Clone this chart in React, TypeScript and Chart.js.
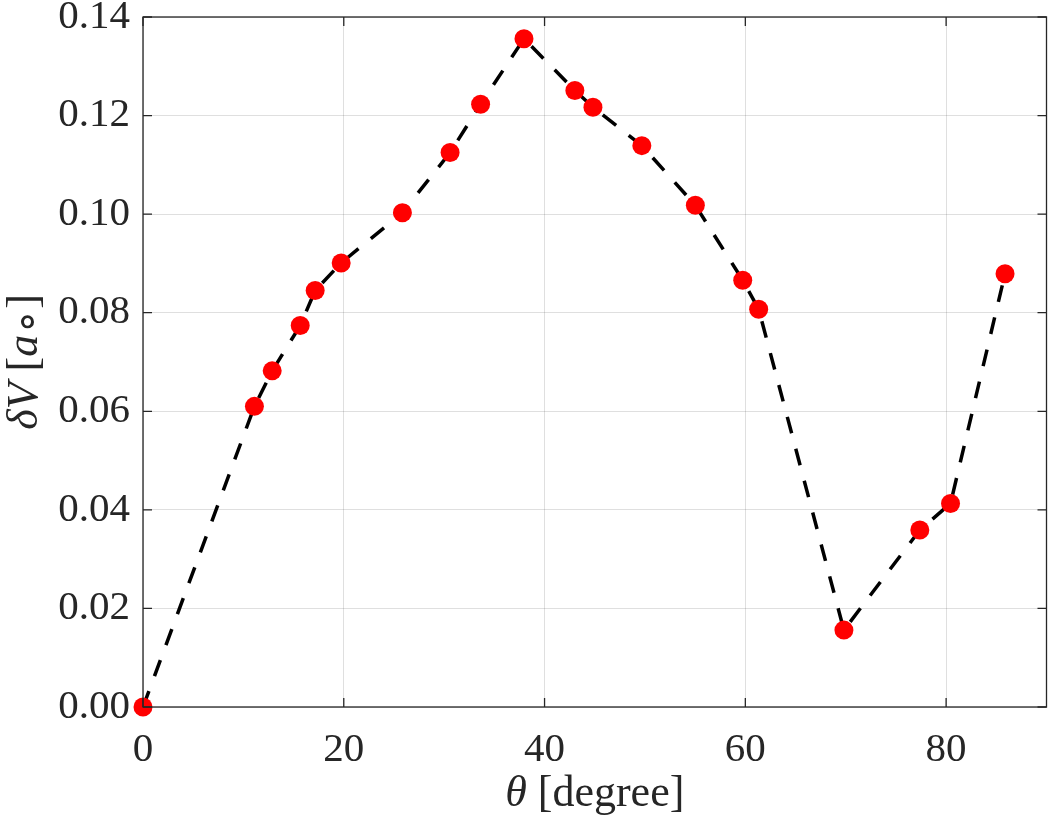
import React, { useEffect, useRef } from "react";
import { Chart, registerables } from "chart.js";

Chart.register(...registerables);

const thetaDeg: number[] = [0, 11.1, 12.87, 15.66, 17.15, 19.74, 25.84, 30.59, 33.63, 37.95, 43.02, 44.82, 49.69, 55.02, 59.74, 61.33, 69.82, 77.38, 80.44, 85.87];
const deltaV: number[] = [0, 0.061, 0.0682, 0.0774, 0.0845, 0.0901, 0.1003, 0.1125, 0.1223, 0.1356, 0.1251, 0.1217, 0.1139, 0.1018, 0.0866, 0.0807, 0.0156, 0.0359, 0.0413, 0.0879];
const xTicks: number[] = [0, 20, 40, 60, 80];
const yTicks: number[] = [0, 0.02, 0.04, 0.06, 0.08, 0.1, 0.12, 0.14];

const FONT = '"Liberation Serif", "Times New Roman", serif';
const AX = "#262626";

type Seg = { t: string; italic?: boolean; sub?: boolean };

function drawSegs(ctx: CanvasRenderingContext2D, segs: Seg[], size: number) {
  const fontFor = (s: Seg) => `${s.italic ? "italic " : ""}${s.sub ? Math.round(size * 0.95) : size}px ${FONT}`;
  let total = 0;
  for (const s of segs) {
    ctx.font = fontFor(s);
    total += ctx.measureText(s.t).width;
  }
  let x = -total / 2;
  ctx.textBaseline = "alphabetic";
  ctx.textAlign = "left";
  for (const s of segs) {
    ctx.font = fontFor(s);
    ctx.fillText(s.t, x, s.sub ? size * 0.12 : 0);
    x += ctx.measureText(s.t).width;
  }
}

const framePlugin = {
  id: "frameAndTitles",
  afterDraw(chart: any) {
    const { ctx, chartArea } = chart;
    const { left, right, top, bottom } = chartArea;
    const xs = chart.scales.x;
    const ys = chart.scales.y;
    ctx.save();
    ctx.strokeStyle = AX;
    ctx.lineWidth = 1.3;
    ctx.strokeRect(left, top, right - left, bottom - top);
    const tl = 9;
    ctx.beginPath();
    for (const v of xTicks) {
      const px = xs.getPixelForValue(v);
      ctx.moveTo(px, bottom);
      ctx.lineTo(px, bottom - tl);
      ctx.moveTo(px, top);
      ctx.lineTo(px, top + tl);
    }
    for (const v of yTicks) {
      const py = ys.getPixelForValue(v);
      ctx.moveTo(left, py);
      ctx.lineTo(left + tl, py);
      ctx.moveTo(right, py);
      ctx.lineTo(right - tl, py);
    }
    ctx.stroke();

    ctx.fillStyle = AX;
    ctx.save();
    ctx.translate((left + right) / 2, 806);
    drawSegs(ctx, [{ t: "θ", italic: true }, { t: " [degree]" }], 44);
    ctx.restore();
    ctx.save();
    ctx.translate(37, (top + bottom) / 2);
    ctx.rotate(-Math.PI / 2);
    drawSegs(ctx, [{ t: "δV", italic: true }, { t: " [" }, { t: "a", italic: true }, { t: "∘", sub: true }, { t: "]" }], 44);
    ctx.restore();
    ctx.restore();
  },
};

const zeroPad = (s: any) => {
  s.paddingTop = 0;
  s.paddingBottom = 0;
  s.paddingLeft = 0;
  s.paddingRight = 0;
};

export default function App() {
  const ref = useRef<HTMLCanvasElement | null>(null);
  useEffect(() => {
    if (!ref.current) return;
    const points = thetaDeg.map((x, i) => ({ x, y: deltaV[i] }));
    const chart = new Chart(ref.current, {
      type: "line",
      data: {
        datasets: [
          {
            data: points,
            borderColor: "#000000",
            borderWidth: 3.5,
            borderDash: [17, 16],
            backgroundColor: "#ff0000",
            pointBackgroundColor: "#ff0000",
            pointBorderWidth: 0,
            pointRadius: 9.5,
            pointHoverRadius: 9.5,
            tension: 0,
            fill: false,
            clip: false as any,
          },
        ],
      },
      options: {
        responsive: false,
        animation: false,
        layout: { padding: { top: 17, right: 0, left: 0, bottom: 0 } },
        plugins: { legend: { display: false }, tooltip: { enabled: false }, title: { display: false } },
        scales: {
          x: {
            type: "linear",
            min: 0,
            max: 90,
            afterBuildTicks: (s: any) => {
              s.ticks = xTicks.map((v) => ({ value: v }));
            },
            afterFit: (s: any) => {
              s.height = 121;
              zeroPad(s);
            },
            grid: { color: "rgba(38,38,38,0.15)", lineWidth: 1, drawTicks: false },
            border: { display: false },
            ticks: {
              color: AX,
              padding: 19,
              font: { family: FONT, size: 41 },
              maxRotation: 0,
              callback: (v: any) => String(v),
            },
          },
          y: {
            type: "linear",
            min: 0,
            max: 0.14,
            afterBuildTicks: (s: any) => {
              s.ticks = yTicks.map((v) => ({ value: v }));
            },
            afterFit: (s: any) => {
              s.width = 143;
              zeroPad(s);
            },
            grid: { color: "rgba(38,38,38,0.15)", lineWidth: 1, drawTicks: false },
            border: { display: false },
            ticks: {
              color: AX,
              padding: 13,
              font: { family: FONT, size: 41 },
              callback: (v: any) => Number(v).toFixed(2),
            },
          },
        },
      },
      plugins: [framePlugin],
    });
    return () => chart.destroy();
  }, []);
  return (
    <div style={{ position: "absolute", left: 0, top: 0, width: 1050, height: 828, overflow: "hidden", background: "#fff" }}>
      <canvas ref={ref} width={1056} height={828} style={{ display: "block" }} />
    </div>
  );
}
